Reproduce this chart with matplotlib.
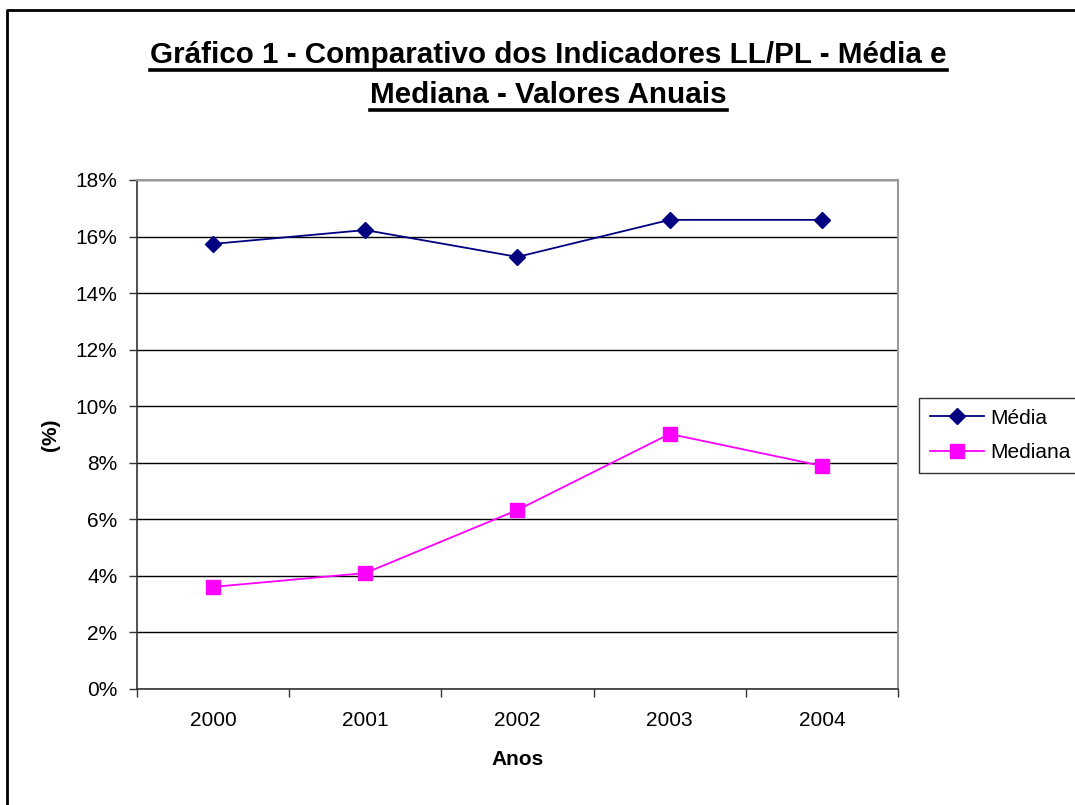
import numpy as np
import matplotlib.pyplot as plt
from matplotlib.lines import Line2D

plt.rcParams["font.family"] = ["Liberation Sans", "DejaVu Sans"]

# -- data --
anos = ["2000", "2001", "2002", "2003", "2004"]
media = [15.74, 16.23, 15.28, 16.59, 16.59]
mediana = [3.61, 4.10, 6.33, 9.02, 7.89]

fig = plt.figure(figsize=(10.75, 8.05), dpi=100)
ax = fig.add_axes([0.1274, 0.1441, 0.7079, 0.6323])

x = np.arange(len(anos))
ax.plot(x, media, color="#000080", marker="D", markersize=8, lw=1.3,
        label="Média", zorder=3)
ax.plot(x, mediana, color="#FF00FF", marker="s", markersize=10, lw=1.3,
        label="Mediana", zorder=3)

# axes
ax.set_xlim(-0.5, len(anos) - 0.5)
ax.set_ylim(0, 18)
ax.set_yticks(np.arange(0, 19, 2))
ax.set_yticklabels([f"{v}%" for v in range(0, 19, 2)], fontsize=15)
ax.set_xticks(x)
ax.set_xticklabels(anos, fontsize=15)
ax.set_xticks(np.arange(-0.5, len(anos)), minor=True)
ax.tick_params(axis="x", which="major", length=0, pad=16)
ax.tick_params(axis="x", which="minor", length=6, width=1, color="#333333")
ax.tick_params(axis="y", length=6, width=1, color="#333333", pad=8)
ax.grid(axis="y", color="black", lw=1)
ax.set_axisbelow(True)
for s in ["left", "bottom"]:
    ax.spines[s].set_color("#333333")
    ax.spines[s].set_linewidth(1.2)
for s in ["top", "right"]:
    ax.spines[s].set_color("#999999")
    ax.spines[s].set_linewidth(1.5)

ax.set_xlabel("Anos", fontsize=15, fontweight="bold", labelpad=14)
ax.set_ylabel("(%)", fontsize=15, fontweight="bold", labelpad=11)

# legend
leg = fig.legend(loc="center left", bbox_to_anchor=(0.855, 0.459), fontsize=15,
                 frameon=True, fancybox=False, edgecolor="black",
                 handlelength=2.6, borderpad=0.5, labelspacing=0.75,
                 handletextpad=0.3, borderaxespad=0)
leg.get_frame().set_linewidth(1)

# title with underline
t1 = fig.text(0.51, 0.9217, "Gráfico 1 - Comparativo dos Indicadores LL/PL - Média e",
              ha="center", va="baseline", fontsize=21.3, fontweight="bold")
t2 = fig.text(0.51, 0.872, "Mediana - Valores Anuais",
              ha="center", va="baseline", fontsize=21.3, fontweight="bold")
fig.canvas.draw()
r = fig.canvas.get_renderer()
for t in (t1, t2):
    bb = t.get_window_extent(r)
    yb = t.get_position()[1] * fig.bbox.height - 7
    fig.add_artist(Line2D([bb.x0 / fig.bbox.width, bb.x1 / fig.bbox.width],
                          [yb / fig.bbox.height] * 2, color="black", lw=2.6))

# figure frame (only top and left edges are visible)
W, H = fig.bbox.width, fig.bbox.height
fig.add_artist(Line2D([7 / W, 7 / W, 1.0], [0.0, 1 - 10 / H, 1 - 10 / H],
                      color="black", lw=2))

fig.savefig("out.png", dpi=100)
